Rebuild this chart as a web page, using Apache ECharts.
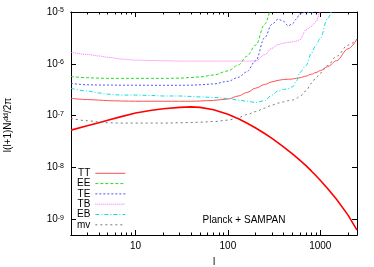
<!DOCTYPE html>
<html><head><meta charset="utf-8">
<script src="https://cdn.jsdelivr.net/npm/echarts@6/dist/echarts.min.js"></script>
<style>html,body{margin:0;padding:0;background:#fff}#c{width:374px;height:267px}</style>
</head><body><div id="c"></div>
<script>
// multipole grid
const ell = [2,3,4,5,7,10,15,20,30,40,50,70,100,130,160,200,250,300,350,400,450,500,550,600,700,800,900,1000,1200,1500,2000,2500];
// signal l(l+1)C_l^dd/2pi (thick red)
const signalDD = [5.27e-8,6.4e-8,7.34e-8,8.17e-8,9.59e-8,1.127e-7,1.27e-7,1.36e-7,1.45e-7,1.48e-7,1.445e-7,1.3e-7,1.07e-7,8.75e-8,7.25e-8,5.8e-8,4.53e-8,3.64e-8,2.99e-8,2.5e-8,2.12e-8,1.83e-8,1.59e-8,1.39e-8,1.09e-8,8.6e-9,6.95e-9,5.7e-9,3.95e-9,2.44e-9,1.21e-9,6.2e-10];
// noise curves
const noiseTT = [2.16e-7,2.05e-7,2.0e-7,1.95e-7,1.92e-7,1.9e-7,1.9e-7,1.9e-7,1.9e-7,1.9e-7,1.92e-7,1.97e-7,2.1e-7,2.4e-7,2.8e-7,3.4e-7,4.0e-7,4.5e-7,4.8e-7,5.0e-7,5.05e-7,5.1e-7,5.25e-7,5.4e-7,5.8e-7,6.3e-7,6.8e-7,7.4e-7,8.8e-7,1.15e-6,1.95e-6,3.0e-6];
const noiseEE = [5.7e-7,5.4e-7,5.3e-7,5.25e-7,5.25e-7,5.25e-7,5.25e-7,5.25e-7,5.3e-7,5.45e-7,5.6e-7,6.1e-7,7.3e-7,9.5e-7,1.4e-6,2.3e-6,5.8e-6,1.6e-5,null,null,null,null,null,null,null,null,null,null,null,null,null,null];
const noiseTE = [4.2e-7,3.95e-7,3.9e-7,3.9e-7,3.88e-7,3.87e-7,3.86e-7,3.86e-7,3.86e-7,3.88e-7,3.95e-7,4.1e-7,4.6e-7,5.5e-7,7.0e-7,1.15e-6,3.2e-6,5.8e-6,7.3e-6,6.6e-6,5.4e-6,5.9e-6,7.3e-6,9.2e-6,1.0e-5,9.6e-6,1.05e-5,1.4e-5,null,null,null,null];
const noiseTB = [1.67e-6,1.52e-6,1.42e-6,1.34e-6,1.24e-6,1.18e-6,1.16e-6,1.15e-6,1.13e-6,1.13e-6,1.13e-6,1.13e-6,1.13e-6,1.13e-6,1.13e-6,1.14e-6,1.5e-6,2.0e-6,2.35e-6,2.5e-6,2.6e-6,2.65e-6,2.75e-6,2.9e-6,4.5e-6,5.3e-6,6.5e-6,1.0e-5,2.0e-5,null,null,null];
const noiseEB = [3.37e-7,3.0e-7,2.75e-7,2.6e-7,2.5e-7,2.5e-7,2.45e-7,2.4e-7,2.4e-7,2.35e-7,2.3e-7,2.25e-7,2.15e-7,2.0e-7,1.9e-7,1.8e-7,1.95e-7,2.5e-7,3.0e-7,3.2e-7,3.35e-7,3.6e-7,4.6e-7,6.8e-7,9.2e-7,1.6e-6,2.3e-6,3.1e-6,7.5e-6,2.5e-5,null,null];
const noiseMV = [8.9e-8,8.0e-8,7.6e-8,7.3e-8,7.2e-8,7.2e-8,7.2e-8,7.2e-8,7.3e-8,7.4e-8,7.5e-8,7.7e-8,8.2e-8,9.2e-8,1.05e-7,1.2e-7,1.4e-7,1.6e-7,1.75e-7,1.85e-7,1.95e-7,2.0e-7,2.15e-7,2.35e-7,3.0e-7,4.2e-7,5.4e-7,6.6e-7,9.3e-7,1.4e-6,2.3e-6,3.0e-6];
const legendNames = ['TT','EE','TE','TB','EB','mv'];
const xMajor = [10,100,1000];
const xMinor = [2,3,4,5,6,7,8,9,20,30,40,50,60,70,80,90,200,300,400,500,600,700,800,900,2000];
const yMajor = [1e-9,1e-8,1e-7,1e-6,1e-5];

const FONT = 'Liberation Sans, Arial, sans-serif';
function pairs(vals){ return ell.map((l,i)=>[l, vals[i]]); }

const chart = echarts.init(document.getElementById('c'));
const xBase = {type:'log', min:2, max:2500, logBase:10, gridIndex:0,
  axisLine:{show:true, lineStyle:{color:'#000', width:1}}, splitLine:{show:false}};
const yBase = {type:'log', min:5e-10, max:1e-5, logBase:10,
  axisLine:{show:true, lineStyle:{color:'#000', width:1}}, splitLine:{show:false}};

function lineSeries(name, vals, color, type, width, smooth){
  return {name, type:'line', data:pairs(vals), symbol:'none', showSymbol:false,
    smooth:smooth, smoothMonotone:'x',
    connectNulls:false, clip:true, xAxisIndex:0, yAxisIndex:0,
    lineStyle:{color, width:width||1, type:type||'solid'}, itemStyle:{color}};
}

chart.setOption({
  animation:false,
  grid:{left:71, top:12, right:17, bottom:32, containLabel:false},
  xAxis:[
    Object.assign({}, xBase, {position:'bottom',
      axisTick:{show:true, inside:true, length:5, customValues:xMajor, lineStyle:{color:'#000'}},
      axisLabel:{show:true, customValues:xMajor, margin:6, fontSize:10, fontFamily:FONT, color:'#000', formatter:v=>String(Math.round(v))}}),
    Object.assign({}, xBase, {position:'bottom',
      axisTick:{show:true, inside:true, length:2.5, customValues:xMinor, lineStyle:{color:'#000'}},
      axisLabel:{show:false}}),
    Object.assign({}, xBase, {position:'top',
      axisTick:{show:true, inside:true, length:5, customValues:xMajor, lineStyle:{color:'#000'}},
      axisLabel:{show:false}}),
    Object.assign({}, xBase, {position:'top',
      axisTick:{show:true, inside:true, length:2.5, customValues:xMinor, lineStyle:{color:'#000'}},
      axisLabel:{show:false}})
  ],
  yAxis:[
    Object.assign({}, yBase, {position:'left',
      axisTick:{show:true, inside:true, length:5, customValues:yMajor, lineStyle:{color:'#000'}},
      axisLabel:{show:true, customValues:yMajor, margin:7,
        formatter:v=>'{b|10}{s|'+Math.round(Math.log10(v))+'}',
        rich:{b:{fontSize:10, fontFamily:FONT, color:'#000', lineHeight:10, verticalAlign:'bottom'},
              s:{fontSize:7, fontFamily:FONT, color:'#000', lineHeight:7, padding:[0,0,4,0], verticalAlign:'top'}}}}),
    Object.assign({}, yBase, {position:'right',
      axisTick:{show:true, inside:true, length:5, customValues:yMajor, lineStyle:{color:'#000'}},
      axisLabel:{show:false}})
  ],
  legend:{data:legendNames, orient:'vertical', left:77, top:168.3, padding:0, align:'right',
    itemWidth:30, itemHeight:10, itemGap:0.3,
    itemStyle:{opacity:0}, lineStyle:{width:1},
    textStyle:{fontSize:10, fontFamily:FONT, color:'#000', lineHeight:10}},
  series:[
    lineSeries('signal', signalDD, '#ff0000', 'solid', 1.6, false),
    lineSeries('TT', noiseTT, '#ff5050', 'solid', 1, 0.35),
    lineSeries('EE', noiseEE, '#22dd22', [3,2], 1, 0.35),
    lineSeries('TE', noiseTE, '#5050ff', [2,2], 1, 0.35),
    lineSeries('TB', noiseTB, '#ff66ff', [1,1], 1, 0.35),
    lineSeries('EB', noiseEB, '#11dddd', [4,2,1,2], 1, 0.35),
    lineSeries('mv', noiseMV, '#777777', [2,3], 1, 0.35)
  ],
  graphic:[
    {type:'text', x:8, y:125, rotation:Math.PI/2,
      style:{text:'{a|l(l+1)N}{sub|l}{sup|dd}{a|/2π}', align:'center', verticalAlign:'middle',
        rich:{a:{fontSize:10, fontFamily:FONT, fill:'#000', lineHeight:10, verticalAlign:'middle'},
              sub:{fontSize:7, fontFamily:FONT, fill:'#000', lineHeight:7, padding:[4,0,0,0], verticalAlign:'bottom'},
              sup:{fontSize:7, fontFamily:FONT, fill:'#000', lineHeight:7, padding:[0,0,5,0], verticalAlign:'top'}}}},
    {type:'text', x:214, y:262, style:{text:'l', fontSize:10, fontFamily:FONT, fill:'#000', align:'center', verticalAlign:'middle'}},
    {type:'text', x:244, y:220, style:{text:'Planck + SAMPAN', fontSize:10, fontFamily:FONT, fill:'#000', align:'center', verticalAlign:'middle'}}
  ]
});
</script></body></html>
